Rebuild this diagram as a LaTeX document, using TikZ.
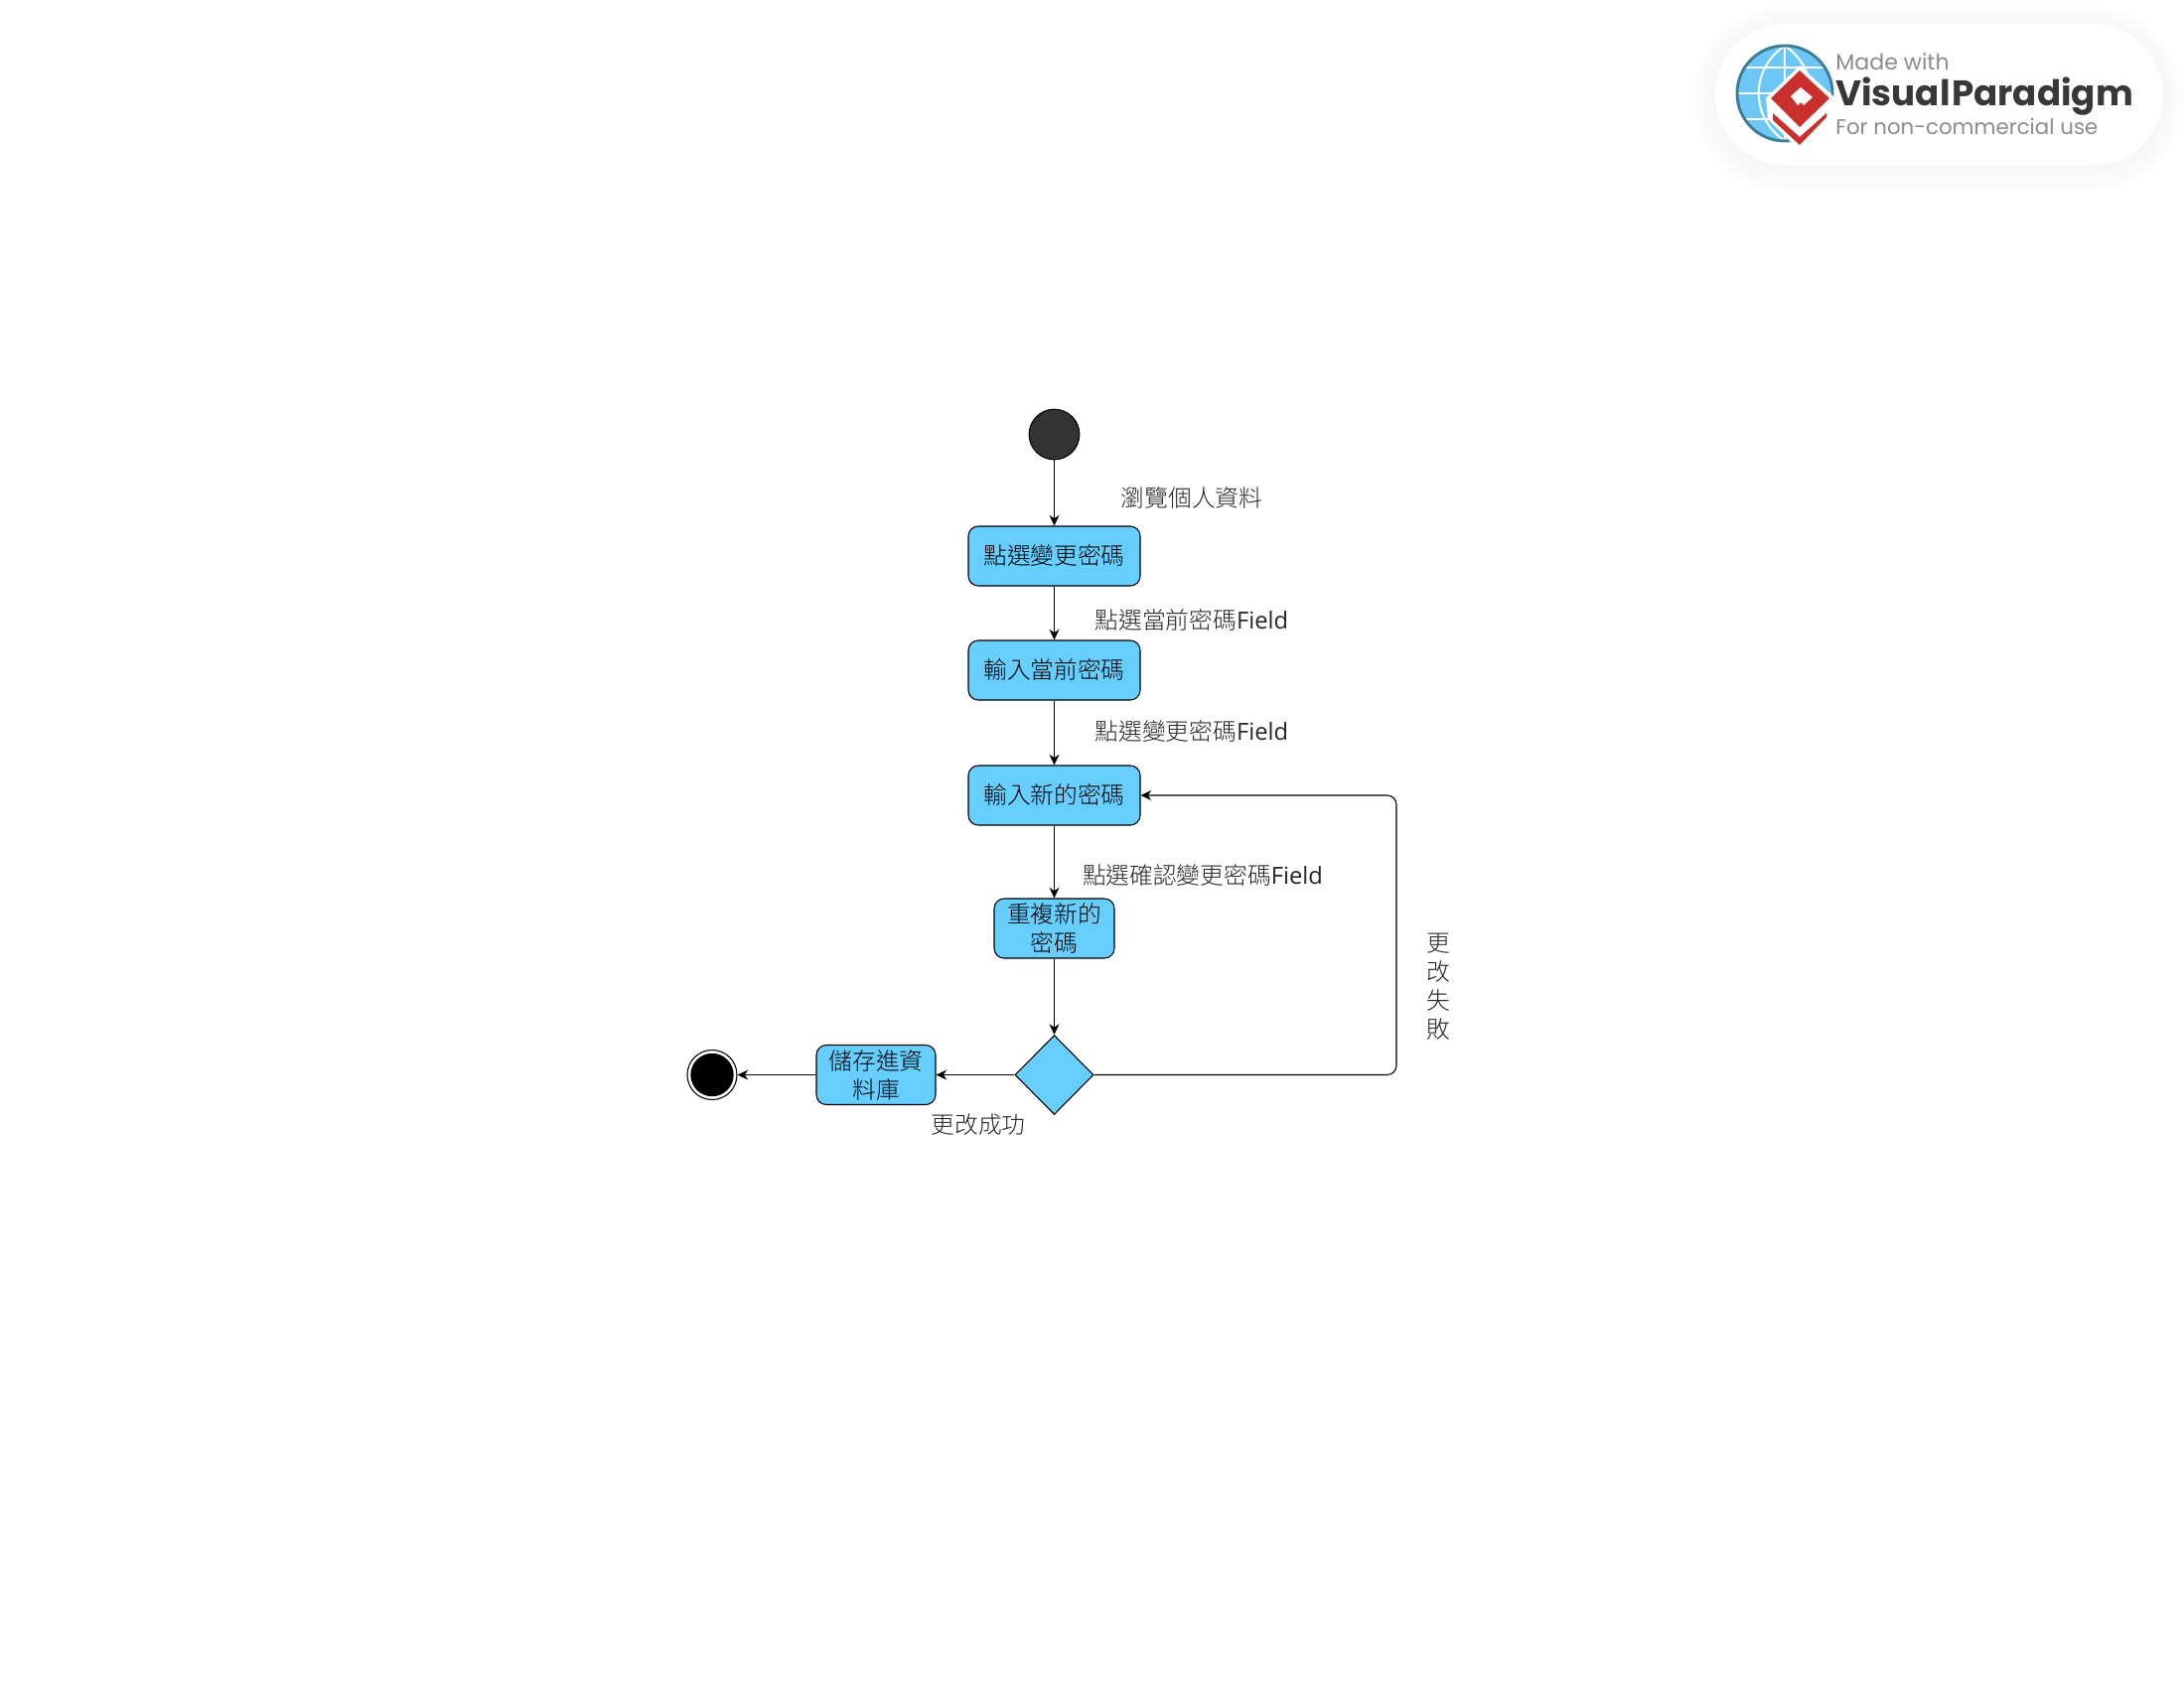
\documentclass[tikz,border=0pt]{standalone}
\usepackage{fontspec}
\setmainfont{Open Sans}
\newfontfamily\cjk{Noto Sans CJK TC Light}
\newfontfamily\logofont{Poppins}
\usetikzlibrary{arrows.meta,shapes.geometric}
\definecolor{actblue}{HTML}{66CFFF}
\definecolor{globeblue}{HTML}{6CC6F6}
\definecolor{globerim}{HTML}{3E7F98}
\definecolor{logored}{HTML}{C9302C}
\tikzset{
	action/.style={draw=black, fill=actblue, rounded corners=7.5pt, line width=0.8pt, minimum height=45pt, inner sep=0pt, align=center, font=\cjk\fontsize{17.8}{21.75}\selectfont, text=black},
	flow/.style={draw=black, line width=0.8pt, -{Stealth[length=8pt, width=7.5pt, inset=2.5pt]}},
	guard/.style={inner sep=0pt, text=black!85, align=center, font=\fontsize{17.8}{21.75}\selectfont},
}
\begin{document}
\begin{tikzpicture}[x=0.75pt, y=-0.75pt]
	\useasboundingbox (0,0) rectangle (2199,1699);
	\fill[white] (0,0) rectangle (2199,1699);

	% badge
	\foreach \grow in {24,21,...,1}
		\fill[black, opacity=0.005, rounded corners=\grow*0.75pt+53pt] (1727-\grow,24-\grow+4) rectangle (2178+\grow,166+\grow+4);
	\fill[white, rounded corners=53pt] (1727,24) rectangle (2178,166);
	\fill[globeblue] (1797,94) circle (36pt);
	\draw[white, line width=1.5pt] (1749,94) -- (1845,94) (1797,46) -- (1797,142);
	\draw[white, line width=1.5pt] (1797,46) .. controls (1762,70) and (1762,118) .. (1797,142);
	\draw[white, line width=1.5pt] (1797,46) .. controls (1832,70) and (1832,118) .. (1797,142);
	\draw[white, line width=1.2pt] (1758,68) -- (1836,68) (1758,120) -- (1836,120);
	\draw[globerim, line width=2.2pt] (1797,94) circle (36pt);
	\fill[white] (1812,66) -- (1848,99) -- (1844,120) -- (1812,152) -- (1780,120) -- (1778,99) -- cycle;
	\fill[logored] (1812,71) -- (1842,99) -- (1812,128) -- (1783,99) -- cycle;
	\fill[logored] (1785,114) -- (1812,138) -- (1839,114) -- (1839,118) -- (1812,146) -- (1785,121) -- cycle;
	\fill[white] (1813,88) -- (1825,98) -- (1816,106) -- (1813,103) -- (1810,106) -- (1803,97) -- cycle;
	\node[anchor=base west, inner sep=0pt, text=black!45, font=\logofont\fontsize{16.6}{20}\selectfont] (madewith) at (1848,70) {Made with};
	\node[anchor=base west, inner sep=0pt, text=black!78, font=\logofont\bfseries\fontsize{26.8}{30}\selectfont] (vpname) at (1848,106) {Visual\hspace{1pt}Paradigm};
	\node[anchor=base west, inner sep=0pt, text=black!45, font=\logofont\fontsize{16}{20}\selectfont] (noncomm) at (1848,135) {For non-commercial use};

	% activities
	\node[circle, draw=black, fill=black!80, line width=0.8pt, inner sep=0pt, minimum size=38pt] (start) at (1061.5,437.5) {};
	\node[action, minimum width=129.75pt, text depth=2pt] (clickchange) at (1061.5,560) {點選變更密碼};
	\node[action, minimum width=129.75pt, text depth=2pt] (curpw) at (1061.5,675) {輸入當前密碼};
	\node[action, minimum width=129.75pt, text depth=2pt] (newpw) at (1061.5,801) {輸入新的密碼};
	\node[action, minimum width=90.75pt] (repeatpw) at (1061.5,935) {重複新的\\密碼};
	\node[diamond, draw=black, fill=actblue, line width=0.8pt, inner sep=0pt, aspect=1, minimum width=59.25pt, minimum height=60pt] (check) at (1061.5,1082.5) {};
	\node[action, minimum width=90pt] (savedb) at (882,1082.5) {儲存進資\\料庫};
	\node[circle, draw=black, fill=white, line width=0.8pt, inner sep=0pt, minimum size=37.5pt] (final) at (717,1082.5) {};
	\node[circle, fill=black, inner sep=0pt, minimum size=32.5pt] (finaldot) at (717,1082.5) {};
	\coordinate (turn) at (1406,950);

	\draw[flow] (start) -- (clickchange);
	\draw[flow] (clickchange) -- (curpw);
	\draw[flow] (curpw) -- (newpw);
	\draw[flow] (newpw) -- (repeatpw);
	\draw[flow] (repeatpw) -- (check);
	\draw[flow] (check) -- (savedb);
	\draw[flow] (savedb) -- (final);
	\draw[flow, rounded corners=7pt] (check.east) -| (turn) |- (newpw.east);

	% guards
	\node[guard] (browse) at (1200,501) {\cjk 瀏覽個人資料};
	\node[guard] (fieldcur) at (1200,624) {{\cjk 點選當前密碼}Field};
	\node[guard] (fieldnew) at (1200,736) {{\cjk 點選變更密碼}Field};
	\node[guard] (fieldrep) at (1211,881) {{\cjk 點選確認變更密碼}Field};
	\node[guard] (success) at (985,1133) {\cjk 更改成功};
	\node[guard] (fail) at (1448,994) {\cjk 更\\ \cjk 改\\ \cjk 失\\ \cjk 敗};
\end{tikzpicture}
\end{document}
